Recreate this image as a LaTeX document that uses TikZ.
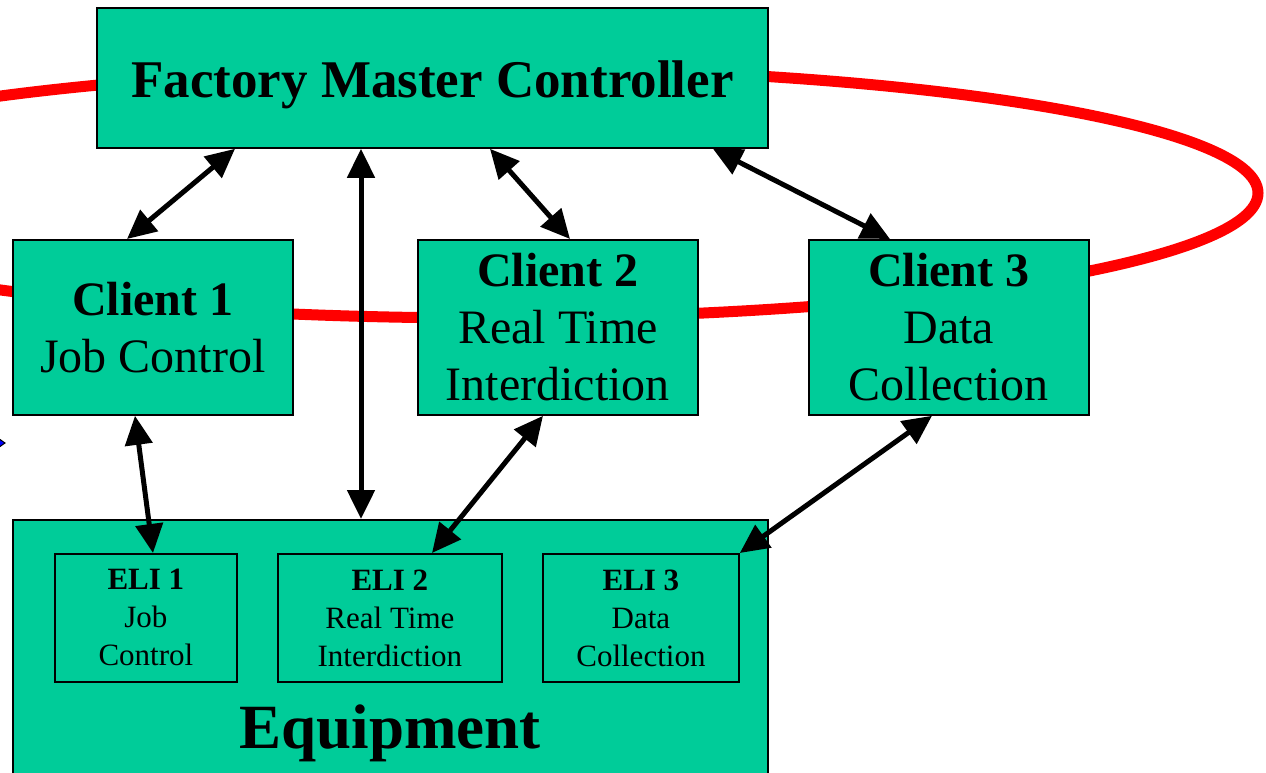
\documentclass[tikz,border=0pt]{standalone}
\usepackage{fontspec}
\setmainfont{Liberation Serif}
\usetikzlibrary{arrows.meta}
\definecolor{boxgreen}{RGB}{0,204,153}
\tikzset{
x=1pt, y=-1pt, % one unit is one pixel of the layout, y runs downwards
box/.style={draw, line width=1.8pt, fill=boxgreen, anchor=north west, align=center, inner sep=0pt}, % common look of all boxes
master/.style={box, minimum width=671pt, minimum height=140pt, text height=40pt, text depth=0pt, font=\bfseries\fontsize{53}{60}\selectfont},
client/.style={box, minimum width=280pt, minimum height=175pt, font=\fontsize{48}{57}\selectfont},
eli/.style={box, minimum height=128pt, font=\fontsize{31}{38}\selectfont},
link/.style={{Triangle[length=29pt,width=27pt]}-{Triangle[length=29pt,width=27pt]}, line width=5pt}, % double headed arrows
}

\begin{document}
\begin{tikzpicture}
        \useasboundingbox (0,0) rectangle (1266,773);
        \clip (0,0) rectangle (1266,773);

        % the red ring behind the boxes
        \draw[red, line width=11pt] (487,193) ellipse [x radius=771, y radius=125];
        \filldraw[blue, draw=black, line width=1pt] (5,443) -- (-12,431) -- (-12,455) -- cycle;

        \node[master] (fmc) at (96,7) {Factory Master Controller};
        \node[client] (client1) at (12,239) {\textbf{Client 1}\\Job Control};
        \node[client] (client2) at (417,239) {\textbf{Client 2}\\Real Time\\Interdiction};
        \node[client] (client3) at (808,239) {\textbf{Client 3}\\Data\\Collection};

        \node[box, minimum width=755pt, minimum height=280pt] (equip) at (12,519) {};
        \node[eli, minimum width=182pt] (eli1) at (54,553) {\textbf{ELI 1}\\Job\\Control};
        \node[eli, minimum width=224pt] (eli2) at (277,553) {\textbf{ELI 2}\\Real Time\\Interdiction};
        \node[eli, minimum width=196pt] (eli3) at (542,553) {\textbf{ELI 3}\\Data\\Collection};
        \node[anchor=base, font=\bfseries\fontsize{63}{70}\selectfont] (equiplabel) at (390,748) {Equipment};

        \draw[link] ([xshift=139pt]fmc.south west) -- ([xshift=115pt]client1.north west);
        \draw[link] ([xshift=265pt]fmc.south west) -- ([xshift=349pt]equip.north west);
        \draw[link] ([xshift=394pt]fmc.south west) -- ([xshift=153pt]client2.north west);
        \draw[link] ([xshift=617pt]fmc.south west) -- ([xshift=82pt]client3.north west);
        \draw[link] ([xshift=123pt]client1.south west) -- ([xshift=99pt]eli1.north west);
        \draw[link] ([xshift=126pt]client2.south west) -- ([xshift=155pt]eli2.north west);
        \draw[link] ([xshift=124pt]client3.south west) -- (eli3.north east);
\end{tikzpicture}
\end{document}
